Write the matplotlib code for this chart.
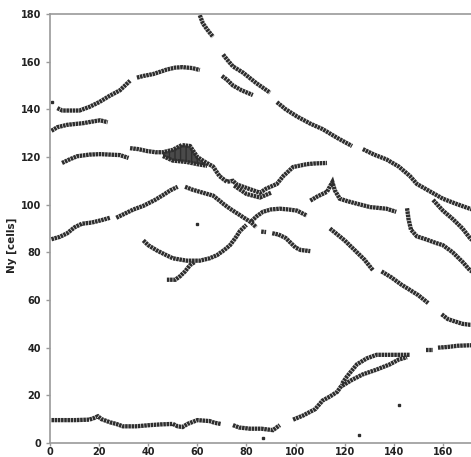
import matplotlib
matplotlib.use("Agg")
import matplotlib.pyplot as plt

# cell tracks, (x, y) in cells
dot_left = [(0.8, 143)]
arc_upper_a = [(3, 140.5), (5, 139.5), (8, 139.5), (12, 139.5), (16, 141), (20, 143),
               (24, 145.5), (28.5, 148), (32.6, 152)]
arc_upper_b = [(35.4, 153.3), (38, 154), (42, 154.8), (45, 155.8), (47.6, 156.7),
               (51, 157.5), (54, 157.7), (58, 157.3), (61, 156.5)]
band_132 = [(0.6, 131), (3, 132.5), (7, 133.5), (13.5, 134.2), (18, 135), (20.4, 135.4),
            (23.5, 134.6)]
band_120 = [(4.9, 117.5), (8, 119), (11, 120.3), (16, 121), (20.4, 121.2), (28.5, 120.8),
            (32, 119.6)]
ridge_top = [(32.6, 123.7), (36, 123.3), (39.5, 122.5), (43, 122), (46, 122), (50, 123),
             (53.7, 125), (57, 124.6), (60, 120), (63, 118), (66.4, 116), (69, 112),
             (72, 109.6), (74.5, 110), (76, 108.5), (81.4, 106.5), (85.5, 105), (88, 106.7),
             (92.4, 108.7), (95, 112), (99, 115.8), (104.6, 117), (108, 117.3), (112.8, 117.5)]
ridge_blob = [(46, 120.4), (50, 118.5), (55.7, 117.9), (60, 117), (64, 116.3)]
ridge_loop = [(75, 108), (80, 104.5), (85.5, 103), (90, 105)]
rise_a = [(0.6, 85.5), (4, 86.5), (7, 88), (10, 90.5), (13, 92), (17, 92.5), (21, 93.5),
          (24.4, 94.5)]
rise_b = [(27, 94.5), (30, 96), (34, 98), (38, 99.5), (42.8, 102), (46, 104), (49, 106),
          (52, 107.5)]
fall = [(55, 107.5), (58, 106.3), (61, 105.4), (64, 104.5), (66.4, 103.8), (69, 101.7),
        (71, 100), (73.3, 98.3), (76, 96.5), (79, 94.5), (82, 92.5), (84, 90.5)]
fall_bits = [(86, 88.7), (88, 88.5)]
fall_end = [(90.5, 88), (93, 87.5), (96, 86), (98, 84), (100, 82), (102, 81), (106, 80.5)]
hump = [(82, 93), (84, 95), (86.7, 97), (90, 98), (93.6, 98.3), (97, 98), (100.6, 97.5),
        (104.6, 95.4)]
cup = [(38, 85), (40, 83), (43.5, 80.8), (47, 79), (50, 77.5), (55.7, 76.5), (61, 76.5),
       (65, 77.5), (68, 78.8), (71, 81), (73.3, 83), (75.5, 86), (77.4, 89), (80, 91.5)]
cup_tail = [(47.6, 68.5), (51, 68.5), (53, 70), (55, 72), (57, 74.6), (59, 76)]
floor_a = [(0.6, 9.6), (5, 9.6), (10, 9.6), (16, 9.8), (18, 10.5), (19.5, 11.2), (21, 10),
           (24.4, 8.7), (27, 8), (29.7, 7), (35, 7), (40.7, 7.5), (45, 7.8), (50, 8),
           (52, 7), (54, 6.7), (56, 8), (60, 9.6), (65, 9.2), (67, 8.5), (69.5, 8)]
floor_b = [(74.5, 7.5), (77, 6.5), (81.4, 6), (86, 6), (90.8, 5.4), (93.6, 7.5)]
climb = [(99, 9.8), (103, 11.5), (108, 14.2), (111, 17.8), (114, 19.5), (117, 21.5),
         (119, 24.5)]
climb_up = [(119, 25), (121, 28), (125, 33), (129, 35.5), (133, 37), (140, 37), (146.6, 37)]
climb_low = [(119, 24), (123, 26.5), (127.4, 28.8), (133, 30.8), (138.4, 33), (142, 35),
             (145.4, 36)]
dash_39 = [(153, 39), (156, 39)]
band_40 = [(158, 40), (162, 40.3), (166, 40.8), (171, 41), (175, 41)]
band_50 = [(159.5, 54), (162, 52), (164, 51.3), (168, 50), (171, 49.6), (175, 49.5)]
slope_a = [(114, 90), (117, 87.5), (120, 85), (124, 81), (128, 77), (131.5, 72.5)]
slope_b = [(135, 72), (139, 69.5), (143, 66.5), (146.6, 64.2), (150, 62), (154, 58.7)]
hook = [(145.4, 98.5), (146, 94), (147, 89.5), (149.4, 86.7), (153, 85.5), (157, 84),
        (160, 83), (164, 80), (168, 76), (171, 72.5), (175, 70)]
wave = [(106, 101.7), (109, 103.5), (112.8, 105.4), (115, 109.5), (116, 106), (118, 102.5),
        (121, 101.5), (125, 100.4), (130.3, 99), (137, 98.3), (141, 97)]
diag_a = [(70.5, 163), (72, 161), (74.5, 158), (78.6, 155.4), (84, 151), (89.6, 147)]
diag_b = [(92.4, 143), (96, 140), (100.6, 137), (106, 134), (111, 131.7), (117, 128),
          (123, 124.6)]
diag_c = [(127.4, 123.3), (132, 121), (137, 119), (142, 116), (146.6, 112), (149.4, 108.7),
          (154, 106), (160, 102.5), (165, 100.5), (171, 98.3), (175, 97)]
diag_fork = [(156, 102), (160, 97.5), (164, 94), (168, 90), (171, 86), (175, 82)]
short_diag = [(70, 154), (72, 152.5), (74.5, 150), (78, 148), (82.6, 146)]
top_dash = [(61, 179.5), (62.3, 176), (64, 173.5), (66.4, 170.4)]
specks = [(60, 92), (86.7, 2), (126, 3.3), (142, 15.8)]

tracks = [arc_upper_a, arc_upper_b, band_132, band_120, ridge_top, ridge_blob, ridge_loop,
          rise_a, rise_b, fall, fall_bits, fall_end, hump, cup, cup_tail, floor_a, floor_b,
          climb, climb_up, climb_low, dash_39, band_40, band_50, slope_a, slope_b, hook,
          wave, diag_a, diag_b, diag_c, diag_fork, short_diag, top_dash]

fig = plt.figure(figsize=(4.71, 4.57), dpi=100)
ax = fig.add_axes([50 / 471, 14 / 457, 442 / 471, 429 / 457])

ink = '#2e2e2e'
for tr in tracks:
    xs = [p[0] for p in tr]
    ys = [p[1] for p in tr]
    ax.plot(xs, ys, color=ink, lw=3.1, linestyle=(0, (0.6, 0.14)),
            dash_capstyle='butt', dash_joinstyle='miter')

# thick patch around x=50-60
xs_top = [p[0] for p in ridge_top[4:9]]
ys_top = [p[1] for p in ridge_top[4:9]]
ax.fill(xs_top + [p[0] for p in ridge_blob[::-1]], ys_top + [p[1] for p in ridge_blob[::-1]],
        facecolor='#4a4a4a', edgecolor=ink, hatch='|||', lw=0)

for x, y in dot_left + specks:
    ax.plot(x, y, 's', color=ink, ms=1.8)

ax.set_xlim(0, 180)
ax.set_ylim(0, 180)
ax.set_xticks(range(0, 161, 20))
ax.set_yticks(range(0, 181, 20))
for s in ax.spines.values():
    s.set_color('#9a9a9a')
    s.set_linewidth(1.2)
ax.tick_params(colors='#9a9a9a', labelcolor='#222222', labelsize=7, length=3, width=1)
ax.tick_params(axis='x', length=2, pad=1)
for lab in ax.get_xticklabels() + ax.get_yticklabels():
    lab.set_fontweight('bold')
ax.set_ylabel('Ny [cells]', fontsize=7.5, fontweight='bold', color='#222222')
ax.yaxis.set_label_coords(-0.075, 0.46)

fig.savefig('out.png', dpi=100)
